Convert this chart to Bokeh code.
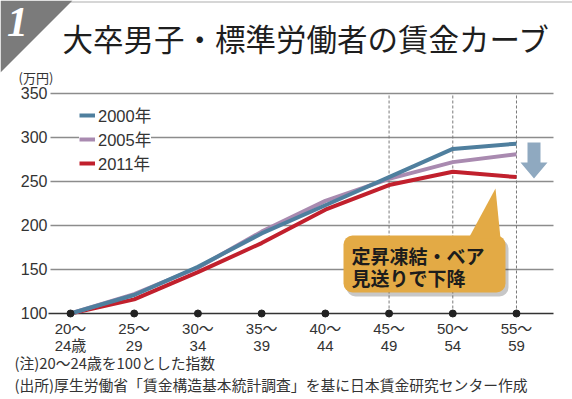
from bokeh.plotting import figure
from bokeh.models import Range1d, Label, Legend, LegendItem, PolyAnnotation
from bokeh.core.properties import value
from bokeh.embed import file_html
from bokeh.resources import INLINE

# ---------------- data ----------------
categories = ["20～\n24歳", "25～\n29", "30～\n34", "35～\n39",
              "40～\n44", "45～\n49", "50～\n54", "55～\n59"]
wage_2000 = [100, 121, 153, 191, 223, 255, 287, 293]
wage_2005 = [100, 122, 152, 193, 228, 253, 272, 281]
wage_2011 = [100, 116, 147, 180, 218, 246, 261, 255]
series_names = ["2000年", "2005年", "2011年"]
y_ticks = [100, 150, 200, 250, 300, 350]
marked_groups = ["45～\n49", "50～\n54", "55～\n59"]
base_index = 100

title_text = "大卒男子・標準労働者の賃金カーブ"
badge_text = "1"
unit_text = "(万円)"
note_lines = ["(注)20～24歳を100とした指数",
              "(出所)厚生労働省「賃金構造基本統計調査」を基に日本賃金研究センター作成"]
callout_lines = ["定昇凍結・ベア", "見送りで下降"]

# ---------------- layout ----------------
W, H = 572, 399
x_lo, x_hi = -1.0987, 7.879
y_lo, y_hi = 2.27, 455.68

# canvas-pixel -> data helpers for decorations
def X(px):
    return x_lo + px / W * (x_hi - x_lo)

def Y(py):
    return y_hi - py / H * (y_hi - y_lo)

SANS = "Liberation Sans, Noto Sans CJK JP"
CJK = "Noto Sans CJK JP"

xs = list(range(len(categories)))

p = figure(width=W, height=H, output_backend="svg", toolbar_location=None,
           x_range=Range1d(x_lo, x_hi), y_range=Range1d(y_lo, y_hi),
           x_axis_location=None, y_axis_location=None, min_border=0,
           outline_line_color=None, background_fill_color="white",
           border_fill_color="white")
p.grid.visible = False

# horizontal grid + base line
grid_vals = [t for t in y_ticks if t != base_index]
p.segment(x0=[X(50)] * len(grid_vals), x1=[X(553)] * len(grid_vals),
          y0=grid_vals, y1=grid_vals, line_color="#8c8c8c", line_width=1.3)
p.segment(x0=[X(48)], x1=[X(553)], y0=[base_index], y1=[base_index],
          line_color="#333333", line_width=1.6)

# y tick labels
p.text(x=[X(47)] * len(y_ticks), y=y_ticks, text=[str(t) for t in y_ticks],
       text_font=value(SANS), text_font_size="16px", text_color="#333333",
       text_align="right", text_baseline="middle")

# x tick labels (two lines)
first = [c.split("\n")[0] for c in categories]
second = [c.split("\n")[1] for c in categories]
p.text(x=xs, y=[Y(328)] * len(xs), text=first, text_font=value(SANS),
       text_font_size="15px", text_color="#333333", text_align="center",
       text_baseline="middle")
p.text(x=xs, y=[Y(345)] * len(xs), text=second, text_font=value(SANS),
       text_font_size="15px", text_color="#333333", text_align="center",
       text_baseline="middle")

# dashed verticals at marked age groups
mx = [categories.index(g) for g in marked_groups]
p.segment(x0=mx, x1=mx, y0=[base_index] * len(mx), y1=[max(y_ticks)] * len(mx),
          line_color="#7a7a7a", line_width=1, line_dash="3 2")

# series lines
r11 = p.line(xs, wage_2011, line_color="#c1202d", line_width=4, line_join="round")
r05 = p.line(xs, wage_2005, line_color="#a98ab0", line_width=4, line_join="round")
r00 = p.line(xs, wage_2000, line_color="#4f7f9e", line_width=4, line_join="round")

# axis dots
p.scatter(xs, [base_index] * len(xs), size=7, color="#222222")

legend = Legend(items=[LegendItem(label=series_names[0], renderers=[r00]),
                       LegendItem(label=series_names[1], renderers=[r05]),
                       LegendItem(label=series_names[2], renderers=[r11])],
                location=(79, 224), background_fill_color="white",
                background_fill_alpha=1, border_line_color=None,
                label_text_font=SANS, label_text_font_size="16.5px",
                label_text_color="#333333",
                glyph_width=16, glyph_height=20, label_height=20,
                label_standoff=3, spacing=0, padding=3, margin=0)
p.add_layout(legend)

# down arrow
ax = [527, 540, 540, 547, 533.5, 520, 527]
ay = [142, 142, 162, 162, 178, 162, 162]
p.patch([X(v) for v in ax], [Y(v) for v in ay], fill_color="#8fa9c0", line_color=None)

# callout
p.quad(left=X(346), right=X(508), top=Y(239), bottom=Y(296),
       fill_color="#000000", fill_alpha=0.22, line_color=None, border_radius=9)
p.quad(left=X(343), right=X(505), top=Y(235), bottom=Y(292),
       fill_color="#e3aa45", line_color=None, border_radius=9)
p.patch([X(468), X(495), X(500)], [Y(238), Y(188), Y(238)],
        fill_color="#e3aa45", line_color=None)
p.text(x=[X(351), X(351)], y=[Y(255), Y(277)], text=callout_lines,
       text_font=value(CJK), text_font_style="bold", text_font_size="19px",
       text_baseline="middle", text_align="left", text_color="#1c1c1c")

# top rule, badge, title
p.segment(x0=[X(66)], x1=[X(572)], y0=[Y(1.5)], y1=[Y(1.5)],
          line_color="#c8c8c8", line_width=1.5)
p.add_layout(PolyAnnotation(xs=[X(0), X(72), X(0)], ys=[Y(0), Y(0), Y(72)],
                            fill_color="#7b7b7b", fill_alpha=1, line_color=None))
p.add_layout(Label(x=X(17), y=Y(21), text=badge_text, text_font="Liberation Serif",
                   text_font_style="bold italic", text_font_size="42px",
                   text_color="white", text_align="center", text_baseline="middle"))
p.add_layout(Label(x=X(62), y=Y(37), text=title_text, text_font=CJK,
                   text_font_size="30.5px", text_color="#1e1e1e",
                   text_baseline="middle", text_align="left"))
p.add_layout(Label(x=X(18), y=Y(77), text=unit_text, text_font=CJK,
                   text_font_size="13px", text_color="#333333",
                   text_baseline="middle", text_align="left"))
for line, py in zip(note_lines, [362, 384]):
    p.add_layout(Label(x=X(14), y=Y(py), text=line, text_font=CJK,
                       text_font_size="14.8px", text_color="#333333",
                       text_baseline="middle", text_align="left"))

open("out.html", "w").write(file_html(p, INLINE))
